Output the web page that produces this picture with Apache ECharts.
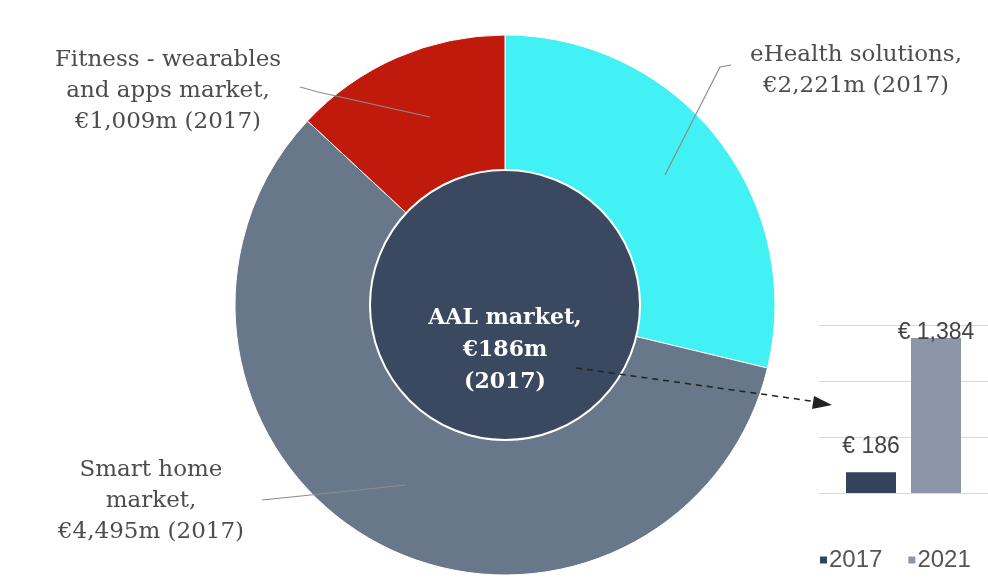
<!DOCTYPE html>
<html>
<head>
<meta charset="utf-8">
<script src="https://cdn.jsdelivr.net/npm/echarts@6/dist/echarts.min.js"></script>
<style>
  html, body { margin: 0; padding: 0; background: #fff; }
  #chart { width: 988px; height: 587px; }
</style>
</head>
<body>
<div id="chart"></div>
<script>
// market segments, 2017 (EUR m)
const segNames = ['eHealth solutions', 'Smart home market', 'Fitness - wearables and apps market'];
const segLabels = ['eHealth solutions,', 'Smart home\nmarket,', 'Fitness - wearables\nand apps market,'];
const segValues = [2221, 4495, 1009];
const segYear = '2017';

// AAL market in the middle
const aalName = 'AAL market';
const aalValue = 186;

// small bar chart: AAL market 2017 vs 2021
const barYears = ['2017', '2021'];
const barValues = [186, 1384];
const barMax = 1500;
const barStep = 500;

const segColors = ['#41f1f3', '#687789', '#c01a0c'];
const barColors = ['#34435b', '#8b96a8'];

// where the outer labels sit and where their leader lines run
const labelPos = [
  { x: 856, y: 71, line: [[665, 175], [720, 67], [731, 65]] },
  { x: 151, y: 501, line: [[405, 485], [330, 493], [262, 500]] },
  { x: 168, y: 91, line: [[430, 117], [318, 92], [300, 87]] }
];

const fmt = v => v.toLocaleString('en-US');

const chart = echarts.init(document.getElementById('chart'));

chart.setOption({
  animation: false,
  backgroundColor: '#fff',
  legend: {
    data: barYears,
    left: 815,
    top: 543,
    itemWidth: 7,
    itemHeight: 7,
    itemGap: 26,
    icon: 'rect',
    textStyle: { fontFamily: 'Liberation Sans', fontSize: 24, color: '#555', padding: [0, 0, 0, -3] }
  },
  grid: { left: 819, right: 0, top: 325, bottom: 94 },
  xAxis: {
    type: 'category',
    data: ['AAL'],
    show: false
  },
  yAxis: {
    type: 'value',
    min: 0,
    max: barMax,
    interval: barStep,
    axisLabel: { show: false },
    axisLine: { show: false },
    axisTick: { show: false },
    splitLine: { lineStyle: { color: '#d9d9d9', width: 1 } }
  },
  series: [
    {
      type: 'pie',
      silent: true,
      center: [505, 305],
      radius: [135, 270],
      startAngle: 90,
      clockwise: true,
      itemStyle: { borderColor: '#fff', borderWidth: 1 },
      data: segNames.map((n, i) => ({
        name: n,
        value: segValues[i],
        itemStyle: { color: segColors[i] }
      })),
      label: {
        show: true,
        formatter: p => segLabels[p.dataIndex] + '\n€' + fmt(p.value) + 'm (' + segYear + ')',
        fontFamily: 'DejaVu Serif',
        fontSize: 23,
        lineHeight: 31,
        color: '#4d4d4d',
        align: 'center'
      },
      labelLine: { show: false },
      labelLayout: p => ({
        x: labelPos[p.dataIndex].x,
        y: labelPos[p.dataIndex].y,
        align: 'center',
        verticalAlign: 'middle'
      })
    },
    {
      type: 'pie',
      silent: true,
      center: [505, 305],
      radius: [0, 135],
      data: [{ name: aalName, value: aalValue }],
      itemStyle: { color: '#3a4860', borderColor: '#fff', borderWidth: 2 },
      label: {
        show: true,
        position: 'center',
        formatter: p => p.name + ',\n€' + fmt(p.value) + 'm\n(' + segYear + ')',
        fontFamily: 'DejaVu Serif',
        fontWeight: 'bold',
        fontSize: 22,
        lineHeight: 32,
        color: '#fff'
      },
      labelLine: { show: false },
      labelLayout: { x: 505, y: 350, align: 'center', verticalAlign: 'middle' }
    },
    {
      name: barYears[0],
      type: 'bar',
      silent: true,
      data: [barValues[0]],
      barWidth: 50,
      barGap: '30%',
      itemStyle: { color: barColors[0] },
      label: {
        show: true,
        position: 'top',
        distance: 14,
        formatter: p => '€ ' + fmt(p.value),
        fontFamily: 'Liberation Sans',
        fontSize: 23,
        color: '#444'
      }
    },
    {
      name: barYears[1],
      type: 'bar',
      silent: true,
      data: [barValues[1]],
      barWidth: 50,
      itemStyle: { color: barColors[1] },
      label: {
        show: true,
        position: 'top',
        distance: -6,
        formatter: p => '€ ' + fmt(p.value),
        fontFamily: 'Liberation Sans',
        fontSize: 23,
        color: '#444'
      }
    }
  ],
  graphic: labelPos.map(l => ({
    type: 'polyline',
    silent: true,
    shape: { points: l.line },
    style: { stroke: '#8c8c8c', lineWidth: 1.2, fill: null },
    z: 100
  })).concat([
    {
      type: 'line',
      silent: true,
      shape: { x1: 576, y1: 368, x2: 818, y2: 402 },
      style: { stroke: '#222', lineWidth: 1.5, lineDash: [6, 5] },
      z: 100
    },
    {
      type: 'polygon',
      silent: true,
      shape: { points: [[832, 405], [814, 396], [812, 409]] },
      style: { fill: '#222' },
      z: 100
    }
  ])
});
</script>
</body>
</html>
